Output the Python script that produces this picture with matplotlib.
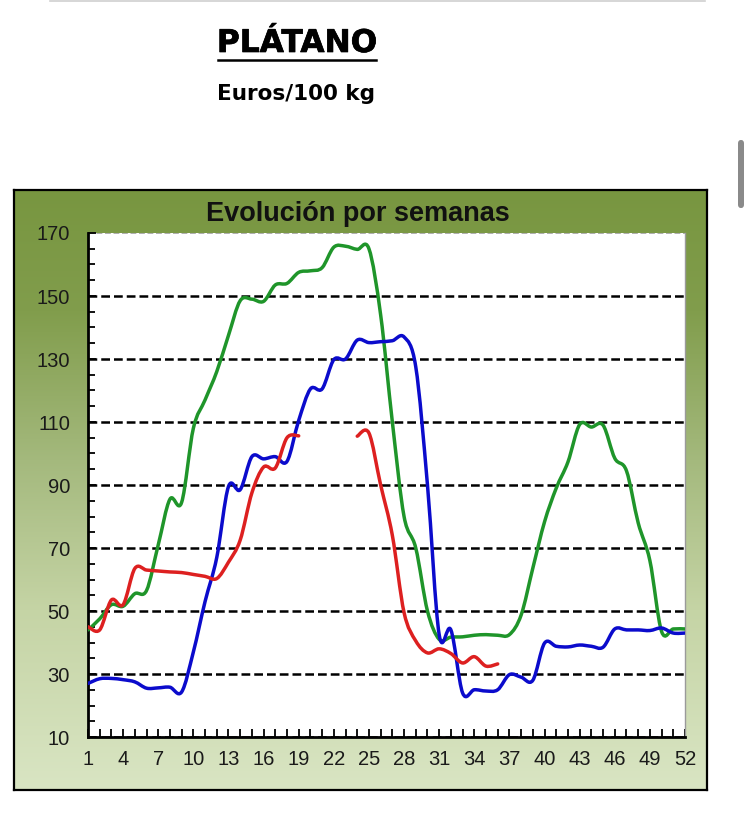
import numpy as np
import matplotlib
matplotlib.use('Agg')
import matplotlib.pyplot as plt
import matplotlib.patheffects as pe
from matplotlib.path import Path
from matplotlib.patches import PathPatch, FancyBboxPatch
from matplotlib.colors import LinearSegmentedColormap
from matplotlib.lines import Line2D

# Precios semanales del plátano (Euros/100 kg)
semanas = list(range(1, 53))

serie_verde = [44, 47.5, 52, 51.5, 55.5, 56.5, 71, 85.5, 84.5, 108,
               117, 126, 137.5, 148.5, 149, 148.3, 153.5, 154, 157.5, 158,
               159, 165.5, 165.8, 164.8, 165, 144, 110, 80, 70, 50,
               41, 41.7, 41.8, 42.3, 42.5, 42.3, 42.5, 48.7, 63.6, 78.3,
               89, 97.3, 109.2, 108.4, 109, 98.5, 94.5, 78, 66, 43.5,
               44.3, 44.3]

serie_azul = [27, 28.5, 28.6, 28.2, 27.5, 25.5, 25.6, 25.8, 24.3, 37,
              53, 67, 89.5, 88.5, 99, 98.3, 99, 97.5, 110.5, 120.5,
              120.5, 129.8, 130, 136, 135.2, 135.5, 135.8, 137, 127.5, 90,
              42.5, 44, 24, 25, 24.6, 25, 29.8, 29, 28, 39.8,
              38.8, 38.6, 39.2, 38.8, 38.5, 44.3, 44, 44, 43.8, 44.6,
              43, 43]

serie_roja = [45, 44, 53.5, 52, 63.5, 63, 62.7, 62.4, 62.2, 61.6,
              61, 60.3, 65.5, 72.5, 87.5, 95.7, 95.4, 105, 105.6, None,
              None, None, None, 105.5, 106.5, 90, 74, 49.5, 40.5, 36.7,
              38, 36.5, 33.5, 35.5, 32.5, 33.2]

ticks_y = [10, 30, 50, 70, 90, 110, 130, 150, 170]
ticks_x = list(range(1, 53, 3))

W, H = 750, 813


def fig_rect(x0, y0, x1, y1):
    # pixeles (origen arriba-izquierda) -> coordenadas de figura
    return [x0 / W, 1 - y1 / H, (x1 - x0) / W, (y1 - y0) / H]


def curva_suave(xs, ys):
    # linea suavizada tipo Excel (Catmull-Rom -> Bezier)
    n = len(xs)
    verts = [(xs[0], ys[0])]
    codes = [Path.MOVETO]
    for i in range(n - 1):
        xa, ya = (xs[i - 1], ys[i - 1]) if i > 0 else (xs[i], ys[i])
        xb, yb = (xs[i + 2], ys[i + 2]) if i + 2 < n else (xs[i + 1], ys[i + 1])
        c1 = (xs[i] + (xs[i + 1] - xa) / 6, ys[i] + (ys[i + 1] - ya) / 6)
        c2 = (xs[i + 1] - (xb - xs[i]) / 6, ys[i + 1] - (yb - ys[i]) / 6)
        verts += [c1, c2, (xs[i + 1], ys[i + 1])]
        codes += [Path.CURVE4] * 3
    return Path(verts, codes)


def tramos(xs, vals):
    actual = ([], [])
    salida = []
    for x, v in zip(xs, vals):
        if v is None:
            if actual[0]:
                salida.append(actual)
            actual = ([], [])
        else:
            actual[0].append(x)
            actual[1].append(v)
    if actual[0]:
        salida.append(actual)
    return salida


fig = plt.figure(figsize=(W / 100, H / 100), dpi=100)
fig.patch.set_facecolor('white')

# linea gris superior y barra de desplazamiento
fig.add_artist(Line2D([50 / W, 705 / W], [1 - 1 / H, 1 - 1 / H], color='#d0d0d0', lw=1.2))
fig.add_artist(FancyBboxPatch((738 / W, 1 - 208 / H), 6 / W, 68 / H,
                              boxstyle='round,pad=0,rounding_size=0.004',
                              transform=fig.transFigure, color='#8a8a8a', lw=0))

# cabecera
fig.text(297 / W, 1 - 43.5 / H, 'PLÁTANO', ha='center', va='center',
         fontsize=22.5, fontweight='bold', family='DejaVu Sans',
         path_effects=[pe.withStroke(linewidth=0.5, foreground='black')])
fig.add_artist(Line2D([218 / W, 376 / W], [1 - 60 / H, 1 - 60 / H], color='black', lw=1.8))
fig.text(296 / W, 1 - 94 / H, 'Euros/100 kg', ha='center', va='center',
         fontsize=15.5, fontweight='bold', family='DejaVu Sans')

# fondo degradado del grafico
ax_bg = fig.add_axes(fig_rect(14, 190, 707, 790))
cmap = LinearSegmentedColormap.from_list('fondo', [
    (0.0, '#789640'), (0.2, '#819d4c'), (0.45, '#a4b97d'),
    (0.7, '#c5d4a5'), (1.0, '#d9e5c3')])
ax_bg.imshow(np.linspace(0, 1, 256).reshape(-1, 1), aspect='auto', cmap=cmap,
             extent=[0, 1, 0, 1])
ax_bg.set_xticks([])
ax_bg.set_yticks([])
for s in ax_bg.spines.values():
    s.set_linewidth(1.6)
    s.set_color('black')

fig.text(358 / W, 1 - 214 / H, 'Evolución por semanas', ha='center', va='center',
         fontsize=19.5, fontweight='bold', family='Liberation Sans', color='#111111')

# area de trazado
ax = fig.add_axes(fig_rect(88, 233, 685, 737))
ax.set_facecolor('white')
ax.set_xlim(1, 52)
ax.set_ylim(10, 170)

ax.set_yticks(ticks_y)
ax.set_yticks(np.arange(10, 171, 5), minor=True)
ax.set_xticks(semanas)
ax.set_xticklabels([str(s) if s in ticks_x else '' for s in semanas])
ax.tick_params(axis='both', which='both', direction='in', color='black', width=1.3,
               labelsize=14.5, labelcolor='#1a1a1a')
ax.tick_params(axis='y', which='major', length=6, pad=13)
ax.tick_params(axis='y', which='minor', length=5)
ax.tick_params(axis='x', which='major', length=6, pad=9)
for lab in ax.get_xticklabels() + ax.get_yticklabels():
    lab.set_family('Liberation Sans')

ax.set_axisbelow(True)
ax.yaxis.grid(True, which='major', color='black', lw=1.8, ls=(0, (3.5, 1.6)))
ax.yaxis.get_gridlines()[-1].set_color('#a0a0a0')
ax.yaxis.get_gridlines()[-1].set_linewidth(1.2)

ax.spines['left'].set_linewidth(2)
ax.spines['bottom'].set_linewidth(2)
ax.spines['top'].set_visible(False)
ax.spines['right'].set_color('#9a9a9a')
ax.spines['right'].set_linewidth(1)

colores = [(serie_verde, '#1f952a'), (serie_azul, '#0b0bcc'), (serie_roja, '#dd2020')]
for valores, color in colores:
    for xs, ys in tramos(semanas, valores):
        ax.add_patch(PathPatch(curva_suave(xs, ys), fill=False, edgecolor=color,
                               lw=2.5, capstyle='round', joinstyle='round', zorder=3))

fig.savefig('out.png', dpi=100)
